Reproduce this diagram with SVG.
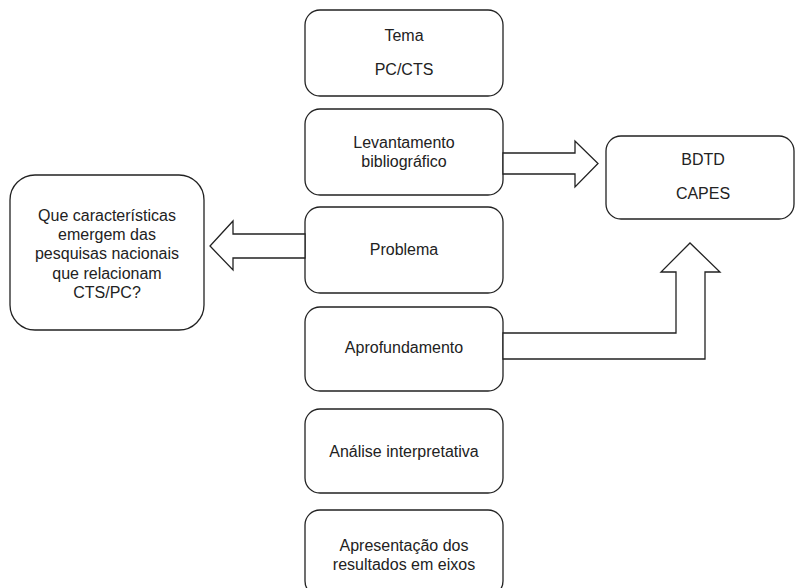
<svg xmlns="http://www.w3.org/2000/svg" width="796" height="588" viewBox="0 0 796 588">
<style>
.box{fill:#fff;stroke:#222;stroke-width:1.3}
.arr{fill:#fff;stroke:#222;stroke-width:1.3;stroke-linejoin:miter}
text{font-family:"Liberation Sans",Arial,sans-serif;font-size:16px;fill:#222;text-anchor:middle}
</style>
<rect width="796" height="588" fill="#fff"/>
<g id="n-tema"><rect class="box" x="305" y="10" width="198" height="86" rx="15"/><text x="404" y="41">Tema</text><text x="404" y="75">PC/CTS</text></g>
<g id="n-lev"><rect class="box" x="305" y="109" width="198" height="86" rx="15"/><text x="404" y="148">Levantamento</text><text x="404" y="167">bibliográfico</text></g>
<g id="n-prob"><rect class="box" x="305" y="207" width="198" height="86" rx="15"/><text x="404" y="255">Problema</text></g>
<g id="n-aprof"><rect class="box" x="305" y="307" width="198" height="84" rx="15"/><text x="404" y="353">Aprofundamento</text></g>
<g id="n-anal"><rect class="box" x="305" y="409" width="198" height="84" rx="15"/><text x="404" y="457">Análise interpretativa</text></g>
<g id="n-apres"><rect class="box" x="305" y="510" width="198" height="86" rx="15"/><text x="404" y="551">Apresentação dos</text><text x="404" y="570">resultados em eixos</text></g>
<g id="n-bdtd"><rect class="box" x="606" y="136" width="188" height="83" rx="15"/><text x="703" y="165">BDTD</text><text x="703" y="199">CAPES</text></g>
<g id="n-que"><rect class="box" x="10" y="175" width="194" height="155" rx="25"/><text x="107" y="221">Que características</text><text x="107" y="240">emergem das</text><text x="107" y="259">pesquisas nacionais</text><text x="107" y="279">que relacionam</text><text x="107" y="298">CTS/PC?</text></g>
<g id="connectors">
<polygon class="arr" points="503,153 575,153 575,141 598,163.5 575,187 575,174 503,174"/>
<polygon class="arr" points="305,234 233,234 233,221 210,246 233,270 233,258 305,258"/>
<polygon class="arr" points="503,333 676,333 676,272 661,272 690,243 720,272 705,272 705,359 503,359"/>
</g>
</svg>
